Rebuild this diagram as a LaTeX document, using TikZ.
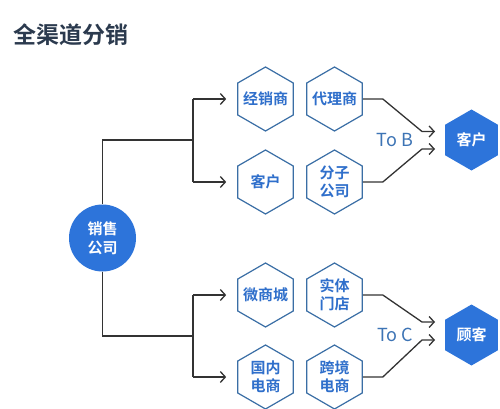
\documentclass[tikz,border=0pt]{standalone}
\usepackage{fontspec}
\newfontfamily\cjk{Noto Sans CJK SC}[BoldFont={Noto Sans CJK SC Bold}]
\usetikzlibrary{shapes.geometric,arrows.meta}
\definecolor{hexline}{HTML}{3A6EA5}
\definecolor{hextext}{HTML}{2F6FCB}
\definecolor{fillblue}{HTML}{2D74DA}
\definecolor{titlec}{HTML}{2B3A4E}
\definecolor{linec}{HTML}{333333}
\definecolor{tobc}{HTML}{3D74B5}
\tikzset{
  hexbox/.style={regular polygon, regular polygon sides=6, shape border rotate=30,
    minimum size=64pt, inner sep=0pt, draw=hexline, line width=1.2pt, fill=white},
  hexlabel/.style={text=hextext, font=\cjk\bfseries\fontsize{15}{18}\selectfont, align=center, inner sep=0pt},
  hexfill/.style={regular polygon, regular polygon sides=6, shape border rotate=30,
    minimum size=61pt, inner sep=0pt, fill=fillblue},
  filllabel/.style={text=white, font=\cjk\bfseries\fontsize{15}{18}\selectfont, align=center, inner sep=0pt},
  conn/.style={draw=linec, line width=1.3pt},
  arr/.style={conn, -{Straight Barb[length=5pt,width=11pt,line width=1.3pt]}},
  tolabel/.style={text=tobc, font=\cjk\fontsize{18}{20}\selectfont}
}
\begin{document}
\begin{tikzpicture}[x=1pt,y=-1pt]
\useasboundingbox (0,0) rectangle (500,409);
\fill[white] (0,0) rectangle (500,409);
\node[text=titlec, font=\cjk\bfseries\fontsize{23}{26}\selectfont, anchor=west] (title) at (10,35) {全渠道分销};

\node[circle, fill=fillblue, minimum size=67pt, inner sep=0pt, text=white, align=center,
  font=\cjk\bfseries\fontsize{15}{19}\selectfont] (sales) at (102.5,238) {销售\\公司};

\node[hexbox, label={[hexlabel]center:经销商}] (jxs) at (265.5,99) {};
\node[hexbox, label={[hexlabel]center:代理商}] (dls) at (334.5,99) {};
\node[hexbox, label={[hexlabel]center:客户}] (kh) at (265.5,182) {};
\node[hexbox, label={[hexlabel]center:分子\\公司}] (fzgs) at (334.5,182) {};
\node[hexbox, label={[hexlabel]center:微商城}] (wsc) at (265.5,295) {};
\node[hexbox, label={[hexlabel]center:实体\\门店}] (stmd) at (334.5,295) {};
\node[hexbox, label={[hexlabel]center:国内\\电商}] (gnds) at (265.5,377) {};
\node[hexbox, label={[hexlabel]center:跨境\\电商}] (kjds) at (334.5,377) {};

\node[hexfill, label={[filllabel]center:客户}] (kehu) at (471.5,140) {};
\node[hexfill, label={[filllabel]center:顾客}] (guke) at (471.5,335) {};

\node[tolabel] (tob) at (395,140) {To B};
\node[tolabel] (toc) at (395,335) {To C};

% left tree top
\coordinate (jt) at (193,140);
\coordinate (jt1) at (193,99);
\coordinate (jt2) at (193,182);
\draw[conn] (sales.north) |- (jt);
\draw[conn] (jt1) -- (jt2);
\draw[arr] (jt1) -- ([xshift=-11pt]jxs.west);
\draw[arr] (jt2) -- ([xshift=-11pt]kh.west);
% left tree bottom
\coordinate (jb) at (193,336);
\coordinate (jb1) at (193,295);
\coordinate (jb2) at (193,377);
\draw[conn] (sales.south) |- (jb);
\draw[conn] (jb1) -- (jb2);
\draw[arr] (jb1) -- ([xshift=-11pt]wsc.west);
\draw[arr] (jb2) -- ([xshift=-11pt]gnds.west);

% right connectors
\coordinate (tbA) at (435,131.5);
\coordinate (tbB) at (435,149);
\draw[arr] (dls.east) -- ++(20,0) -- (422,131.5) -- (tbA);
\draw[arr] (fzgs.east) -- ++(20,0) -- (422,149) -- (tbB);
\coordinate (tcA) at (435,322);
\coordinate (tcB) at (435,340);
\draw[arr] (stmd.east) -- ++(20,0) -- (422,322) -- (tcA);
\draw[arr] (kjds.east) -- ++(20,0) -- (422,340) -- (tcB);
\end{tikzpicture}
\end{document}
